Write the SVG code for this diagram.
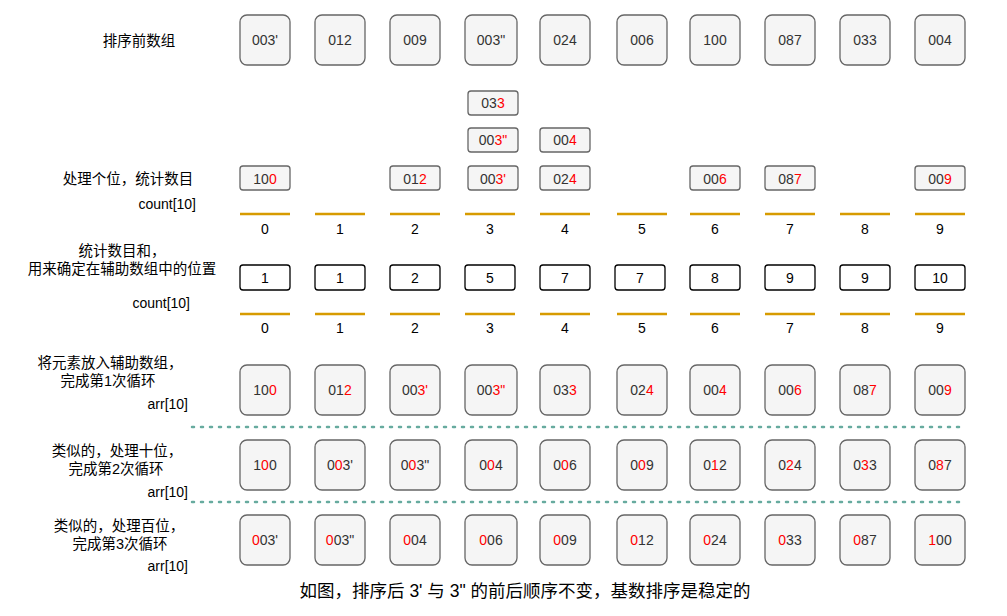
<svg xmlns="http://www.w3.org/2000/svg" width="1007" height="616" viewBox="0 0 1007 616">
<style>
text{font-family:"Liberation Sans",Arial,sans-serif;font-size:14px;fill:#333}
.c{text-anchor:middle}
.r{text-anchor:end;fill:#000;font-family:"Liberation Sans","Noto Sans CJK SC",sans-serif;font-size:14px}
.m{text-anchor:middle;fill:#000;font-family:"Liberation Sans","Noto Sans CJK SC",sans-serif;font-size:14.5px}
.big{fill:#f5f5f5;stroke:#666;stroke-width:1.3}
.cnt{fill:#fff;stroke:#000;stroke-width:1.3}
.bar{stroke:#d79b00;stroke-width:2.5}
.dot{stroke:#67ab9f;stroke-width:2.5;stroke-dasharray:2 7;stroke-linecap:round}
tspan.h{fill:#ff0000}
.n{fill:#000}
</style>
<rect width="1007" height="616" fill="#fff"/>
<g id="labels">
<text class="m" x="139" y="46">排序前数组</text>
<text class="m" x="128" y="184">处理个位，统计数目</text>
<text class="r" x="196" y="209">count[10]</text>
<text class="m" x="122" y="256">统计数目和，</text>
<text class="m" x="122" y="274">用来确定在辅助数组中的位置</text>
<text class="r" x="190" y="308">count[10]</text>
<text class="m" x="110" y="368">将元素放入辅助数组，</text>
<text class="m" x="108" y="386">完成第1次循环</text>
<text class="r" x="188" y="409">arr[10]</text>
<text class="m" x="117" y="456">类似的，处理十位，</text>
<text class="m" x="116" y="474">完成第2次循环</text>
<text class="r" x="188" y="497">arr[10]</text>
<text class="m" x="119" y="531">类似的，处理百位，</text>
<text class="m" x="120" y="549">完成第3次循环</text>
<text class="r" x="188" y="571">arr[10]</text>
<text class="c" x="525" y="597" style="font-family:'Liberation Sans','Noto Sans CJK SC',sans-serif;font-size:17.5px;fill:#000">如图，排序后 3' 与 3" 的前后顺序不变，基数排序是稳定的</text>
</g>
<g id="row0">
<rect class="big" x="240" y="15" width="50" height="50" rx="7"/><text class="c" x="265" y="45">003'</text>
<rect class="big" x="315" y="15" width="50" height="50" rx="7"/><text class="c" x="340" y="45">012</text>
<rect class="big" x="390" y="15" width="50" height="50" rx="7"/><text class="c" x="415" y="45">009</text>
<rect class="big" x="465" y="15" width="52" height="50" rx="7"/><text class="c" x="491" y="45">003"</text>
<rect class="big" x="540" y="15" width="50" height="50" rx="7"/><text class="c" x="565" y="45">024</text>
<rect class="big" x="617" y="15" width="50" height="50" rx="7"/><text class="c" x="642" y="45">006</text>
<rect class="big" x="690" y="15" width="50" height="50" rx="7"/><text class="c" x="715" y="45">100</text>
<rect class="big" x="765" y="15" width="50" height="50" rx="7"/><text class="c" x="790" y="45">087</text>
<rect class="big" x="840" y="15" width="50" height="50" rx="7"/><text class="c" x="865" y="45">033</text>
<rect class="big" x="915" y="15" width="50" height="50" rx="7"/><text class="c" x="940" y="45">004</text>
</g>
<g id="buckets">
<rect class="big" x="468" y="91" width="50" height="24" rx="3"/><text class="c" x="493" y="108">03<tspan class="h">3</tspan></text>
<rect class="big" x="468" y="128" width="50" height="24" rx="3"/><text class="c" x="493" y="145">00<tspan class="h">3"</tspan></text>
<rect class="big" x="540" y="128" width="50" height="24" rx="3"/><text class="c" x="565" y="145">00<tspan class="h">4</tspan></text>
<rect class="big" x="240" y="166" width="50" height="24" rx="3"/><text class="c" x="265" y="184">10<tspan class="h">0</tspan></text>
<rect class="big" x="390" y="166" width="50" height="24" rx="3"/><text class="c" x="415" y="184">01<tspan class="h">2</tspan></text>
<rect class="big" x="468" y="166" width="50" height="24" rx="3"/><text class="c" x="493" y="184">00<tspan class="h">3'</tspan></text>
<rect class="big" x="540" y="166" width="50" height="24" rx="3"/><text class="c" x="565" y="184">02<tspan class="h">4</tspan></text>
<rect class="big" x="690" y="166" width="50" height="24" rx="3"/><text class="c" x="715" y="184">00<tspan class="h">6</tspan></text>
<rect class="big" x="765" y="166" width="50" height="24" rx="3"/><text class="c" x="790" y="184">08<tspan class="h">7</tspan></text>
<rect class="big" x="915" y="166" width="50" height="24" rx="3"/><text class="c" x="940" y="184">00<tspan class="h">9</tspan></text>
</g>
<g id="count1">
<g class="bar"><line x1="240" y1="214" x2="290" y2="214"/><line x1="315" y1="214" x2="365" y2="214"/><line x1="390" y1="214" x2="440" y2="214"/><line x1="465" y1="214" x2="515" y2="214"/><line x1="540" y1="214" x2="590" y2="214"/><line x1="617" y1="214" x2="667" y2="214"/><line x1="690" y1="214" x2="740" y2="214"/><line x1="765" y1="214" x2="815" y2="214"/><line x1="840" y1="214" x2="890" y2="214"/><line x1="915" y1="214" x2="965" y2="214"/></g>
<text class="c n" x="265" y="234">0</text><text class="c n" x="340" y="234">1</text><text class="c n" x="415" y="234">2</text><text class="c n" x="490" y="234">3</text><text class="c n" x="565" y="234">4</text><text class="c n" x="642" y="234">5</text><text class="c n" x="715" y="234">6</text><text class="c n" x="790" y="234">7</text><text class="c n" x="865" y="234">8</text><text class="c n" x="940" y="234">9</text>
</g>
<g id="count2">
<rect class="cnt" x="240" y="265" width="50" height="25" rx="3"/><text class="c n" x="265" y="283">1</text>
<rect class="cnt" x="315" y="265" width="50" height="25" rx="3"/><text class="c n" x="340" y="283">1</text>
<rect class="cnt" x="390" y="265" width="50" height="25" rx="3"/><text class="c n" x="415" y="283">2</text>
<rect class="cnt" x="465" y="265" width="50" height="25" rx="3"/><text class="c n" x="490" y="283">5</text>
<rect class="cnt" x="540" y="265" width="50" height="25" rx="3"/><text class="c n" x="565" y="283">7</text>
<rect class="cnt" x="615" y="265" width="50" height="25" rx="3"/><text class="c n" x="640" y="283">7</text>
<rect class="cnt" x="690" y="265" width="50" height="25" rx="3"/><text class="c n" x="715" y="283">8</text>
<rect class="cnt" x="765" y="265" width="50" height="25" rx="3"/><text class="c n" x="790" y="283">9</text>
<rect class="cnt" x="840" y="265" width="50" height="25" rx="3"/><text class="c n" x="865" y="283">9</text>
<rect class="cnt" x="915" y="265" width="50" height="25" rx="3"/><text class="c n" x="940" y="283">10</text>
<g class="bar"><line x1="240" y1="314" x2="290" y2="314"/><line x1="315" y1="314" x2="365" y2="314"/><line x1="390" y1="314" x2="440" y2="314"/><line x1="465" y1="314" x2="515" y2="314"/><line x1="540" y1="314" x2="590" y2="314"/><line x1="617" y1="314" x2="667" y2="314"/><line x1="690" y1="314" x2="740" y2="314"/><line x1="765" y1="314" x2="815" y2="314"/><line x1="840" y1="314" x2="890" y2="314"/><line x1="915" y1="314" x2="965" y2="314"/></g>
<text class="c n" x="265" y="333">0</text><text class="c n" x="340" y="333">1</text><text class="c n" x="415" y="333">2</text><text class="c n" x="490" y="333">3</text><text class="c n" x="565" y="333">4</text><text class="c n" x="642" y="333">5</text><text class="c n" x="715" y="333">6</text><text class="c n" x="790" y="333">7</text><text class="c n" x="865" y="333">8</text><text class="c n" x="940" y="333">9</text>
</g>
<g id="row1">
<rect class="big" x="240" y="365" width="50" height="50" rx="7"/><text class="c" x="265" y="395">10<tspan class="h">0</tspan></text>
<rect class="big" x="315" y="365" width="50" height="50" rx="7"/><text class="c" x="340" y="395">01<tspan class="h">2</tspan></text>
<rect class="big" x="390" y="365" width="50" height="50" rx="7"/><text class="c" x="415" y="395">00<tspan class="h">3'</tspan></text>
<rect class="big" x="465" y="365" width="52" height="50" rx="7"/><text class="c" x="491" y="395">00<tspan class="h">3"</tspan></text>
<rect class="big" x="540" y="365" width="50" height="50" rx="7"/><text class="c" x="565" y="395">03<tspan class="h">3</tspan></text>
<rect class="big" x="617" y="365" width="50" height="50" rx="7"/><text class="c" x="642" y="395">02<tspan class="h">4</tspan></text>
<rect class="big" x="690" y="365" width="50" height="50" rx="7"/><text class="c" x="715" y="395">00<tspan class="h">4</tspan></text>
<rect class="big" x="765" y="365" width="50" height="50" rx="7"/><text class="c" x="790" y="395">00<tspan class="h">6</tspan></text>
<rect class="big" x="840" y="365" width="50" height="50" rx="7"/><text class="c" x="865" y="395">08<tspan class="h">7</tspan></text>
<rect class="big" x="915" y="365" width="50" height="50" rx="7"/><text class="c" x="940" y="395">00<tspan class="h">9</tspan></text>
</g>
<g id="connectors">
<line class="dot" x1="192" y1="427" x2="964" y2="427"/>
<line class="dot" x1="192" y1="502" x2="964" y2="502"/>
</g>
<g id="row2">
<rect class="big" x="240" y="440" width="50" height="50" rx="7"/><text class="c" x="265" y="470">1<tspan class="h">0</tspan>0</text>
<rect class="big" x="315" y="440" width="50" height="50" rx="7"/><text class="c" x="340" y="470">0<tspan class="h">0</tspan>3'</text>
<rect class="big" x="390" y="440" width="50" height="50" rx="7"/><text class="c" x="415" y="470">0<tspan class="h">0</tspan>3"</text>
<rect class="big" x="465" y="440" width="52" height="50" rx="7"/><text class="c" x="491" y="470">0<tspan class="h">0</tspan>4</text>
<rect class="big" x="540" y="440" width="50" height="50" rx="7"/><text class="c" x="565" y="470">0<tspan class="h">0</tspan>6</text>
<rect class="big" x="617" y="440" width="50" height="50" rx="7"/><text class="c" x="642" y="470">0<tspan class="h">0</tspan>9</text>
<rect class="big" x="690" y="440" width="50" height="50" rx="7"/><text class="c" x="715" y="470">0<tspan class="h">1</tspan>2</text>
<rect class="big" x="765" y="440" width="50" height="50" rx="7"/><text class="c" x="790" y="470">0<tspan class="h">2</tspan>4</text>
<rect class="big" x="840" y="440" width="50" height="50" rx="7"/><text class="c" x="865" y="470">0<tspan class="h">3</tspan>3</text>
<rect class="big" x="915" y="440" width="50" height="50" rx="7"/><text class="c" x="940" y="470">0<tspan class="h">8</tspan>7</text>
</g>
<g id="row3">
<rect class="big" x="240" y="515" width="50" height="50" rx="7"/><text class="c" x="265" y="545"><tspan class="h">0</tspan>03'</text>
<rect class="big" x="315" y="515" width="50" height="50" rx="7"/><text class="c" x="340" y="545"><tspan class="h">0</tspan>03"</text>
<rect class="big" x="390" y="515" width="50" height="50" rx="7"/><text class="c" x="415" y="545"><tspan class="h">0</tspan>04</text>
<rect class="big" x="465" y="515" width="52" height="50" rx="7"/><text class="c" x="491" y="545"><tspan class="h">0</tspan>06</text>
<rect class="big" x="540" y="515" width="50" height="50" rx="7"/><text class="c" x="565" y="545"><tspan class="h">0</tspan>09</text>
<rect class="big" x="617" y="515" width="50" height="50" rx="7"/><text class="c" x="642" y="545"><tspan class="h">0</tspan>12</text>
<rect class="big" x="690" y="515" width="50" height="50" rx="7"/><text class="c" x="715" y="545"><tspan class="h">0</tspan>24</text>
<rect class="big" x="765" y="515" width="50" height="50" rx="7"/><text class="c" x="790" y="545"><tspan class="h">0</tspan>33</text>
<rect class="big" x="840" y="515" width="50" height="50" rx="7"/><text class="c" x="865" y="545"><tspan class="h">0</tspan>87</text>
<rect class="big" x="915" y="515" width="50" height="50" rx="7"/><text class="c" x="940" y="545"><tspan class="h">1</tspan>00</text>
</g>
</svg>
